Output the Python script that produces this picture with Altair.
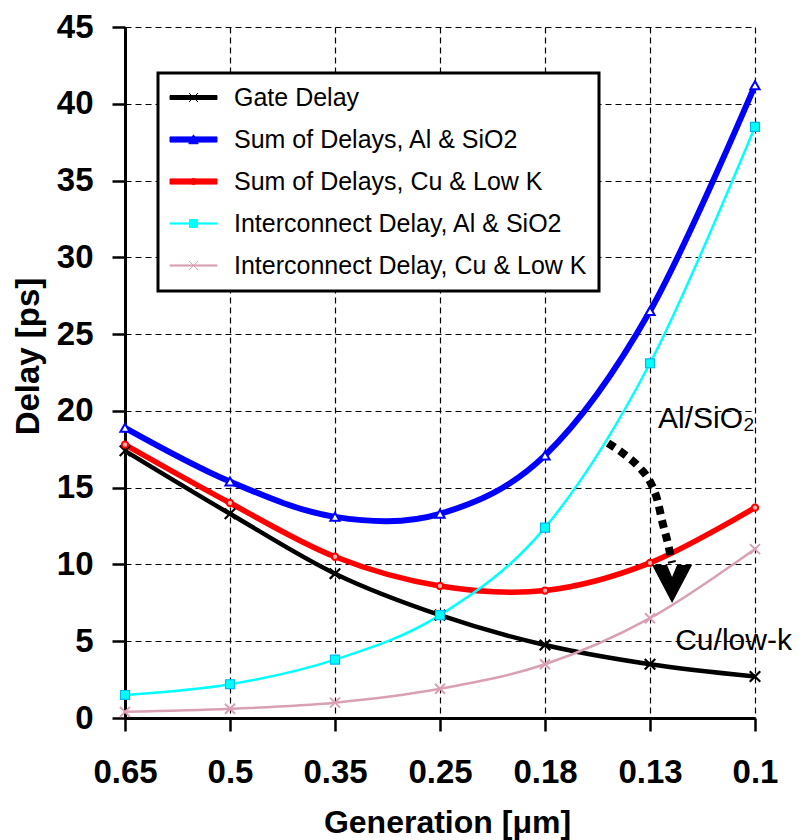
import json
import altair as alt
import pandas as pd

# ---------------- data ----------------
generations = ["0.65", "0.5", "0.35", "0.25", "0.18", "0.13", "0.1"]
series_names = [
    "Gate Delay",
    "Sum of Delays, Al & SiO2",
    "Sum of Delays, Cu & Low K",
    "Interconnect Delay, Al & SiO2",
    "Interconnect Delay, Cu & Low K",
]
gate_delay = [17.4, 13.3, 9.4, 6.7, 4.75, 3.5, 2.7]
sum_al_sio2 = [18.9, 15.4, 13.1, 13.3, 17.1, 26.5, 41.2]
sum_cu_lowk = [17.8, 14.0, 10.5, 8.6, 8.3, 10.1, 13.7]
inter_al_sio2 = [1.5, 2.2, 3.8, 6.7, 12.4, 23.1, 38.5]
inter_cu_lowk = [0.4, 0.6, 1.0, 1.9, 3.5, 6.5, 11.0]
series_values = [gate_delay, sum_al_sio2, sum_cu_lowk, inter_al_sio2, inter_cu_lowk]

# annotation (dotted arrow + texts), in data units (x = generation index)
arrow_x = [4.60, 4.74, 4.90, 5.00, 5.07, 5.12, 5.17, 5.21]
arrow_y = [17.9, 17.25, 16.3, 15.4, 14.2, 12.7, 11.4, 10.1]
arrowhead_x = [5.21]
arrowhead_y = [8.72]
note_text = ["Al/SiO\u2082", "Cu/low-k"]
note_x = [5.076, 5.24]
note_y = [18.9, 4.43]

# ---------------- styles ----------------
FONT = "Liberation Sans"
line_color = ["#000000", "#0000FF", "#FF0000", "#00FFFF", "#D9A0B5"]
line_width = [4.5, 6, 5.5, 2.5, 2.5]
X_PATH = "M-1,-1L1,1M-1,1L1,-1"
marker_style = [
    dict(shape=X_PATH, size=110, filled=False, stroke="#000000", strokeWidth=2.2),
    dict(shape="triangle-up", size=85, filled=True, fill="#FFFFFF", stroke="#0000FF", strokeWidth=2),
    dict(shape="circle", size=40, filled=True, fill="#FFB0B0", stroke="#FF0000", strokeWidth=2),
    dict(shape="square", size=80, filled=True, fill="#00FFFF", stroke="#00B8F0", strokeWidth=1.2),
    dict(shape=X_PATH, size=100, filled=False, stroke="#D9A0B5", strokeWidth=2),
]
# legend symbols: line + marker, unit = 11.75 px
legend_paths = [
    "M-2,-0.17H2V0.17H-2Z M-0.38,-0.38L0.38,0.38 M-0.38,0.38L0.38,-0.38",
    "M-2,-0.22H2V0.22H-2Z M-0.4,0.36L0,-0.4L0.4,0.36Z",
    "M-2,-0.22H2V0.22H-2Z M-0.26,0A0.26,0.26,0,1,1,0.26,0A0.26,0.26,0,1,1,-0.26,0Z",
    "M-2,-0.05H2V0.05H-2Z M-0.34,-0.34H0.34V0.34H-0.34Z",
    "M-2,-0.05H2V0.05H-2Z M-0.38,-0.38L0.38,0.38 M-0.38,0.38L0.38,-0.38",
]

rows = []
for name, vals in zip(series_names, series_values):
    for i, v in enumerate(vals):
        rows.append({"series": name, "gi": i, "val": v})
df = pd.DataFrame(rows)

label_expr = json.dumps(generations) + "[round(datum.value)]"

X = alt.X(
    "gi:Q",
    scale=alt.Scale(domain=[0, 6], nice=False, zero=False),
    axis=alt.Axis(
        values=list(range(len(generations))),
        labelExpr=label_expr,
        labelFlush=False,
        labelOverlap=False,
        title="Generation [\u03bcm]",
        titleX=322,
        titleY=114,
        titleFontSize=32,
        titleAlign="center",
        titleBaseline="alphabetic",
        labelPadding=25,
    ),
)
Y = alt.Y(
    "val:Q",
    scale=alt.Scale(domain=[0, 45], nice=False),
    axis=alt.Axis(
        values=list(range(0, 46, 5)),
        labelFlush=False,
        labelOverlap=False,
        title="Delay [ps]",
        titleX=-87,
        titleY=329,
        titleAngle=270,
        titleAlign="center",
        titleBaseline="alphabetic",
        labelPadding=19,
    ),
)

layers = []
for k, name in enumerate(series_names):
    sub = df[df["series"] == name]
    layers.append(
        alt.Chart(sub)
        .mark_line(color=line_color[k], strokeWidth=line_width[k],
                   interpolate="cardinal", tension=0)
        .encode(x=X, y=Y)
    )
for k, name in enumerate(series_names):
    sub = df[df["series"] == name]
    layers.append(
        alt.Chart(sub)
        .mark_point(opacity=1, **marker_style[k])
        .encode(x=X, y=Y)
    )

leg = alt.Legend(
    orient="none", legendX=33, legendY=46, title=None,
    padding=12, rowPadding=16,
    symbolSize=552, symbolOffset=11, labelOffset=28, symbolStrokeWidth=1,
    symbolOpacity=1,
    labelFont=FONT, labelFontSize=25, labelColor="black", labelLimit=600,
    fillColor="white", strokeColor="black",
)
legend_layer = (
    alt.Chart(df)
    .transform_filter("false")
    .mark_point(filled=True, opacity=1, size=552, strokeWidth=1)
    .encode(
        x=X, y=Y,
        color=alt.Color("series:N", scale=alt.Scale(domain=series_names, range=line_color), legend=leg),
        stroke=alt.Stroke("series:N", scale=alt.Scale(domain=series_names, range=line_color), legend=leg),
        shape=alt.Shape("series:N", scale=alt.Scale(domain=series_names, range=legend_paths), legend=leg),
    )
)
layers.append(legend_layer)

arrow_df = pd.DataFrame({"gi": arrow_x, "val": arrow_y, "o": list(range(len(arrow_x)))})
layers.append(
    alt.Chart(arrow_df)
    .mark_line(color="black", strokeWidth=8, strokeDash=[8, 6], strokeCap="butt",
               interpolate="monotone")
    .encode(x=X, y=Y, order="o:Q")
)
head_df = pd.DataFrame({"gi": arrowhead_x, "val": arrowhead_y})
layers.append(
    alt.Chart(head_df)
    .mark_point(shape="M-1,-0.95L-0.25,-0.95L0,-0.35L0.25,-0.95L1,-0.95L0,0.95Z",
                size=1600, filled=True, fill="black", strokeWidth=0, opacity=1)
    .encode(x=X, y=Y)
)
note_df = pd.DataFrame({"gi": note_x, "val": note_y, "t": note_text})
layers.append(
    alt.Chart(note_df)
    .mark_text(font=FONT, fontSize=30, color="black", align="left", baseline="alphabetic")
    .encode(x=X, y=Y, text="t:N")
)

chart = (
    alt.layer(*layers)
    .properties(
        width=630,
        height=691,
        padding={"left": 125, "top": 27, "right": 50, "bottom": 122},
        autosize=alt.AutoSizeParams(type="none"),
        background="white",
    )
    .configure_view(stroke=None)
    .configure_axis(
        grid=True,
        gridColor="black",
        gridDash=[6, 4],
        gridWidth=1.2,
        gridOpacity=1,
        domainColor="black",
        domainWidth=3,
        tickColor="black",
        tickWidth=2.5,
        tickSize=13,
        labelFont=FONT,
        labelFontSize=33,
        labelFontWeight="bold",
        labelColor="black",
        titleFont=FONT,
        titleFontSize=33,
        titleFontWeight="bold",
        titleColor="black",
    )
    .configure_legend(strokeWidth=3)
)

chart.save("out.html", embed_options={"renderer": "svg", "actions": False})
